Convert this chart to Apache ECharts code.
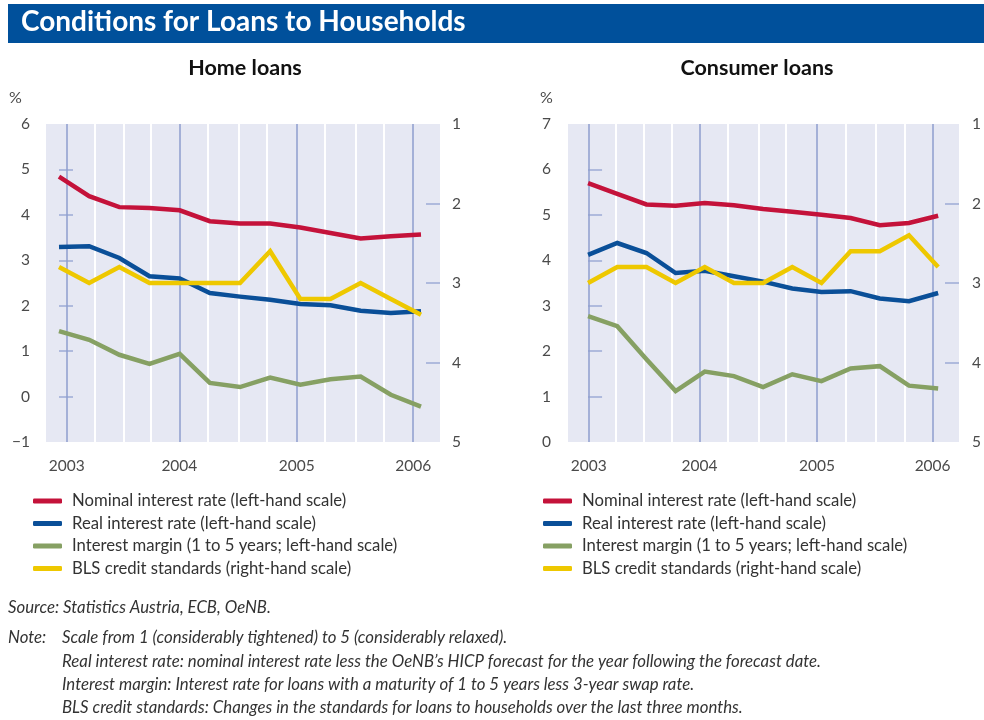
<!DOCTYPE html>
<html><head><meta charset="utf-8">
<script src="https://cdn.jsdelivr.net/npm/echarts@6/dist/echarts.min.js"></script>
<style>html,body{margin:0;padding:0;background:#fff}#c{width:984px;height:720px}</style>
</head><body><div id="c"></div>
<script>
// ---- data ----
const periods = ['Q4 02','Q1 03','Q2 03','Q3 03','Q4 03','Q1 04','Q2 04','Q3 04','Q4 04','Q1 05','Q2 05','Q3 05','Q4 05'];
const yearLabels = ['2003','2004','2005','2006'];
const seriesNames = ['Nominal interest rate (left-hand scale)','Real interest rate (left-hand scale)','Interest margin (1 to 5 years; left-hand scale)','BLS credit standards (right-hand scale)'];

const homeNominal = [4.84, 4.41, 4.17, 4.15, 4.10, 3.86, 3.81, 3.81, 3.72, 3.60, 3.48, 3.53, 3.57];
const homeReal    = [3.29, 3.31, 3.05, 2.65, 2.60, 2.28, 2.20, 2.13, 2.04, 2.01, 1.89, 1.84, 1.88];
const homeMargin  = [1.44, 1.25, 0.92, 0.72, 0.94, 0.30, 0.21, 0.42, 0.26, 0.38, 0.44, 0.04, -0.22];
const homeBLS     = [2.8, 3.0, 2.8, 3.0, 3.0, 3.0, 3.0, 2.6, 3.2, 3.2, 3.0, 3.2, 3.4];

const consNominal = [5.70, 5.46, 5.23, 5.20, 5.26, 5.21, 5.13, 5.07, 5.00, 4.93, 4.77, 4.82, 4.98];
const consReal    = [4.12, 4.38, 4.16, 3.72, 3.77, 3.65, 3.53, 3.38, 3.30, 3.32, 3.16, 3.10, 3.28];
const consMargin  = [2.77, 2.55, 1.82, 1.12, 1.55, 1.45, 1.21, 1.49, 1.34, 1.62, 1.67, 1.24, 1.18];
const consBLS     = [3.0, 2.8, 2.8, 3.0, 2.8, 3.0, 3.0, 2.8, 3.0, 2.6, 2.6, 2.4, 2.8];

// axis reference lines (in period-index units of each panel)
const homeYearLines = [0.255, 3.99, 7.88, 11.74];
const homeQuarterLines = [1.19, 2.13, 3.05, 4.92, 5.97, 6.88, 8.82, 9.84, 10.78];
const consYearLines = [0.02, 3.82, 7.85, 11.81];
const consQuarterLines = [0.96, 1.92, 2.87, 4.80, 5.84, 6.77, 8.82, 9.87, 10.84];

// ---- styles ----
const FONT = 'Lato';
const colors = ['#C4123A', '#0A4F98', '#86A063', '#EEC800'];
const plotBg = '#E6E8F3';
const yearLineColor = '#8E9ECE';
const tickColor = '#9DABD6';
const labelColor = '#4a4a4a';

const toPts = arr => arr.map((v, i) => [i, v]);
const minus = v => String(v).replace('-', '\u2212');

function xAxisFor(gridIndex, min, max, yearLines) {
  return {
    type: 'value', gridIndex, min, max,
    axisLine: {show: false}, axisTick: {show: false}, splitLine: {show: false},
    axisLabel: {
      customValues: yearLines, margin: 16, fontFamily: FONT, fontSize: 15.5, color: labelColor,
      formatter: v => {
        let best = 0;
        yearLines.forEach((y, i) => { if (Math.abs(y - v) < Math.abs(yearLines[best] - v)) best = i; });
        return yearLabels[best];
      }
    }
  };
}
function leftY(gridIndex, min, max, tickVals, margin) {
  return {
    type: 'value', gridIndex, min, max, interval: 1, position: 'left',
    axisLine: {show: false}, splitLine: {show: false},
    axisTick: {show: true, inside: true, length: 14, customValues: tickVals, lineStyle: {color: tickColor, width: 1.5}},
    axisLabel: {margin, fontFamily: FONT, fontSize: 15.5, color: labelColor, formatter: minus}
  };
}
function rightY(gridIndex, margin) {
  return {
    type: 'value', gridIndex, min: 1, max: 5, interval: 1, inverse: true, position: 'right',
    axisLine: {show: false}, splitLine: {show: false},
    axisTick: {show: true, inside: true, length: 14, customValues: [2, 3, 4], lineStyle: {color: tickColor, width: 1.5}},
    axisLabel: {margin, fontFamily: FONT, fontSize: 15.5, color: labelColor}
  };
}
function refLines(gridIndex, yAxisIndex, yearLines, quarterLines) {
  return {
    type: 'line', xAxisIndex: gridIndex, yAxisIndex, data: [], silent: true,
    markLine: {
      silent: true, symbol: 'none', z: 1, animation: false, label: {show: false},
      data: quarterLines.map(x => ({xAxis: x, lineStyle: {color: '#ffffff', width: 2, type: 'solid'}}))
        .concat(yearLines.map(x => ({xAxis: x, lineStyle: {color: yearLineColor, width: 1.5, type: 'solid'}})))
    }
  };
}
function dataSeries(gridIndex, yLeft, yRight, nominal, real, margin, bls) {
  return [nominal, real, margin, bls].map((arr, k) => ({
    name: seriesNames[k], type: 'line', xAxisIndex: gridIndex, yAxisIndex: k === 3 ? yRight : yLeft,
    data: toPts(arr), symbol: 'none', smooth: false, z: 3,
    lineStyle: {color: colors[k], width: 4.5, join: 'miter'}, itemStyle: {color: colors[k]}
  }));
}

const legendBase = {
  orient: 'vertical', icon: 'roundRect', itemWidth: 29, itemHeight: 5, itemGap: 4.5, padding: 0,
  data: seriesNames, selectedMode: false,
  textStyle: {fontFamily: FONT, fontSize: 16.7, color: '#333', lineHeight: 18, padding: [0, 0, 0, 5]}
};

const noteText = [
  'Scale from 1 (considerably tightened) to 5 (considerably relaxed).',
  'Real interest rate: nominal interest rate less the OeNB\u2019s HICP forecast for the year following the forecast date.',
  'Interest margin: Interest rate for loans with a maturity of 1 to 5 years less 3-year swap rate.',
  'BLS credit standards: Changes in the standards for loans to households over the last three months.'
].join('\n');

const italic = {fontFamily: FONT, fontSize: 16.8, fontStyle: 'italic', fontWeight: 'normal', color: '#333', lineHeight: 23.4};

const option = {
  animation: false,
  backgroundColor: '#ffffff',
  graphic: [{type: 'rect', left: 8, top: 4, shape: {width: 976, height: 39}, style: {fill: '#00509B'}, z: 0}],
  title: [
    {text: 'Conditions for Loans to Households', left: 21, top: 8, padding: 0, textStyle: {fontFamily: FONT, fontSize: 28, fontWeight: 'bold', color: '#fff'}},
    {text: 'Home loans', left: 245, top: 57, padding: 0, textAlign: 'center', textStyle: {fontFamily: FONT, fontSize: 21.5, fontWeight: 'bold', color: '#111'}},
    {text: 'Consumer loans', left: 757, top: 57, padding: 0, textAlign: 'center', textStyle: {fontFamily: FONT, fontSize: 21.5, fontWeight: 'bold', color: '#111'}},
    {text: '%', left: 9, top: 90, padding: 0, textStyle: {fontFamily: FONT, fontSize: 16, fontWeight: 'normal', color: labelColor}},
    {text: '%', left: 540, top: 90, padding: 0, textStyle: {fontFamily: FONT, fontSize: 16, fontWeight: 'normal', color: labelColor}},
    {text: 'Source: Statistics Austria, ECB, OeNB.', left: 8, top: 596, padding: 0, textStyle: italic},
    {text: 'Note:', left: 8, top: 626, padding: 0, textStyle: italic},
    {text: noteText, left: 62, top: 626, padding: 0, textStyle: italic}
  ],
  legend: [
    Object.assign({left: 33, top: 492}, legendBase),
    Object.assign({left: 543, top: 492}, legendBase)
  ],
  grid: [
    {left: 46, top: 124, width: 394, height: 318, show: true, backgroundColor: plotBg, borderWidth: 0},
    {left: 568, top: 124, width: 394, height: 318, show: true, backgroundColor: plotBg, borderWidth: 0}
  ],
  xAxis: [
    xAxisFor(0, -0.431, 12.63, homeYearLines),
    xAxisFor(1, -0.688, 12.715, consYearLines)
  ],
  yAxis: [
    leftY(0, -1, 6, [0, 1, 2, 3, 4, 5], 16),
    rightY(0, 12),
    leftY(1, 0, 7, [1, 2, 3, 4, 5, 6], 17),
    rightY(1, 13)
  ],
  series: [
    refLines(0, 0, homeYearLines, homeQuarterLines),
    refLines(1, 2, consYearLines, consQuarterLines)
  ].concat(dataSeries(0, 0, 1, homeNominal, homeReal, homeMargin, homeBLS))
   .concat(dataSeries(1, 2, 3, consNominal, consReal, consMargin, consBLS))
};

const chart = echarts.init(document.getElementById('c'), null, {renderer: 'canvas'});
chart.setOption(option);
</script>
</body></html>
